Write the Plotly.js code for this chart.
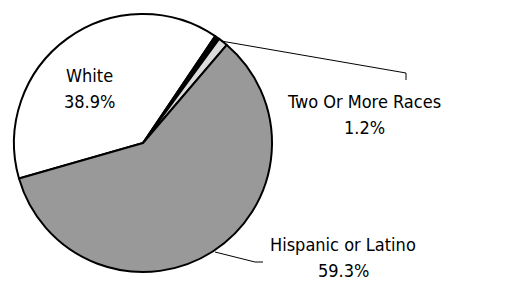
<!DOCTYPE html>
<html>
<head>
<meta charset="utf-8">
<script src="https://cdn.plot.ly/plotly-3.0.1.min.js"></script>
<style>
  html, body { margin: 0; padding: 0; background: #fff; }
  #chart { width: 508px; height: 286px; }
</style>
</head>
<body>
<div id="chart"></div>
<script>
// Data
const categories = ["White", "Black or African American", "Two Or More Races", "Hispanic or Latino"];
const percentages = [38.9, 0.6, 1.2, 59.3];
const sliceColors = ["#ffffff", "#000000", "#dcdcdc", "#999999"];
const shownLabels = ["White", "Two Or More Races", "Hispanic or Latino"];

const W = 508, H = 286;
const cx = 143, cy = 143, r = 129;
const px = x => x / W;
const py = y => 1 - y / H;

const FONT = "'DejaVu Sans Condensed', 'DejaVu Sans', Tahoma, sans-serif";

const trace = {
  type: "pie",
  labels: categories,
  values: percentages,
  sort: false,
  direction: "clockwise",
  rotation: -106,
  textinfo: "none",
  hoverinfo: "label+percent",
  marker: { colors: sliceColors, line: { color: "#000000", width: 2 } },
  domain: { x: [px(cx - r), px(cx + r)], y: [py(cy + r), py(cy - r)] },
  showlegend: false
};

// label anchor (centre of first line) in pixels
const labelPos = {
  "White": [89, 75],
  "Two Or More Races": [364, 101],
  "Hispanic or Latino": [343, 244]
};
const LINE_GAP = 26;

const annotations = [];
shownLabels.forEach(name => {
  const i = categories.indexOf(name);
  const [lx, ly] = labelPos[name];
  [categories[i], percentages[i].toFixed(1) + "%"].forEach((t, k) => {
    annotations.push({
      text: t,
      x: px(lx), y: py(ly + k * LINE_GAP),
      xref: "paper", yref: "paper",
      xanchor: "center", yanchor: "middle",
      showarrow: false,
      font: { family: FONT, size: 18, color: "#000" }
    });
  });
});

const ln = (x0, y0, x1, y1) => ({
  type: "line", xref: "paper", yref: "paper",
  x0: px(x0), y0: py(y0), x1: px(x1), y1: py(y1),
  line: { color: "#000", width: 1 }
});

const shapes = [
  ln(221, 41, 406, 73), ln(406, 73, 406, 80),
  ln(215, 252, 255, 262), ln(255, 262, 263, 262)
];

const layout = {
  width: W, height: H,
  margin: { l: 0, r: 0, t: 0, b: 0 },
  paper_bgcolor: "#fff",
  plot_bgcolor: "#fff",
  annotations: annotations,
  shapes: shapes
};

Plotly.newPlot("chart", [trace], layout, { displayModeBar: false, staticPlot: true });
</script>
</body>
</html>
